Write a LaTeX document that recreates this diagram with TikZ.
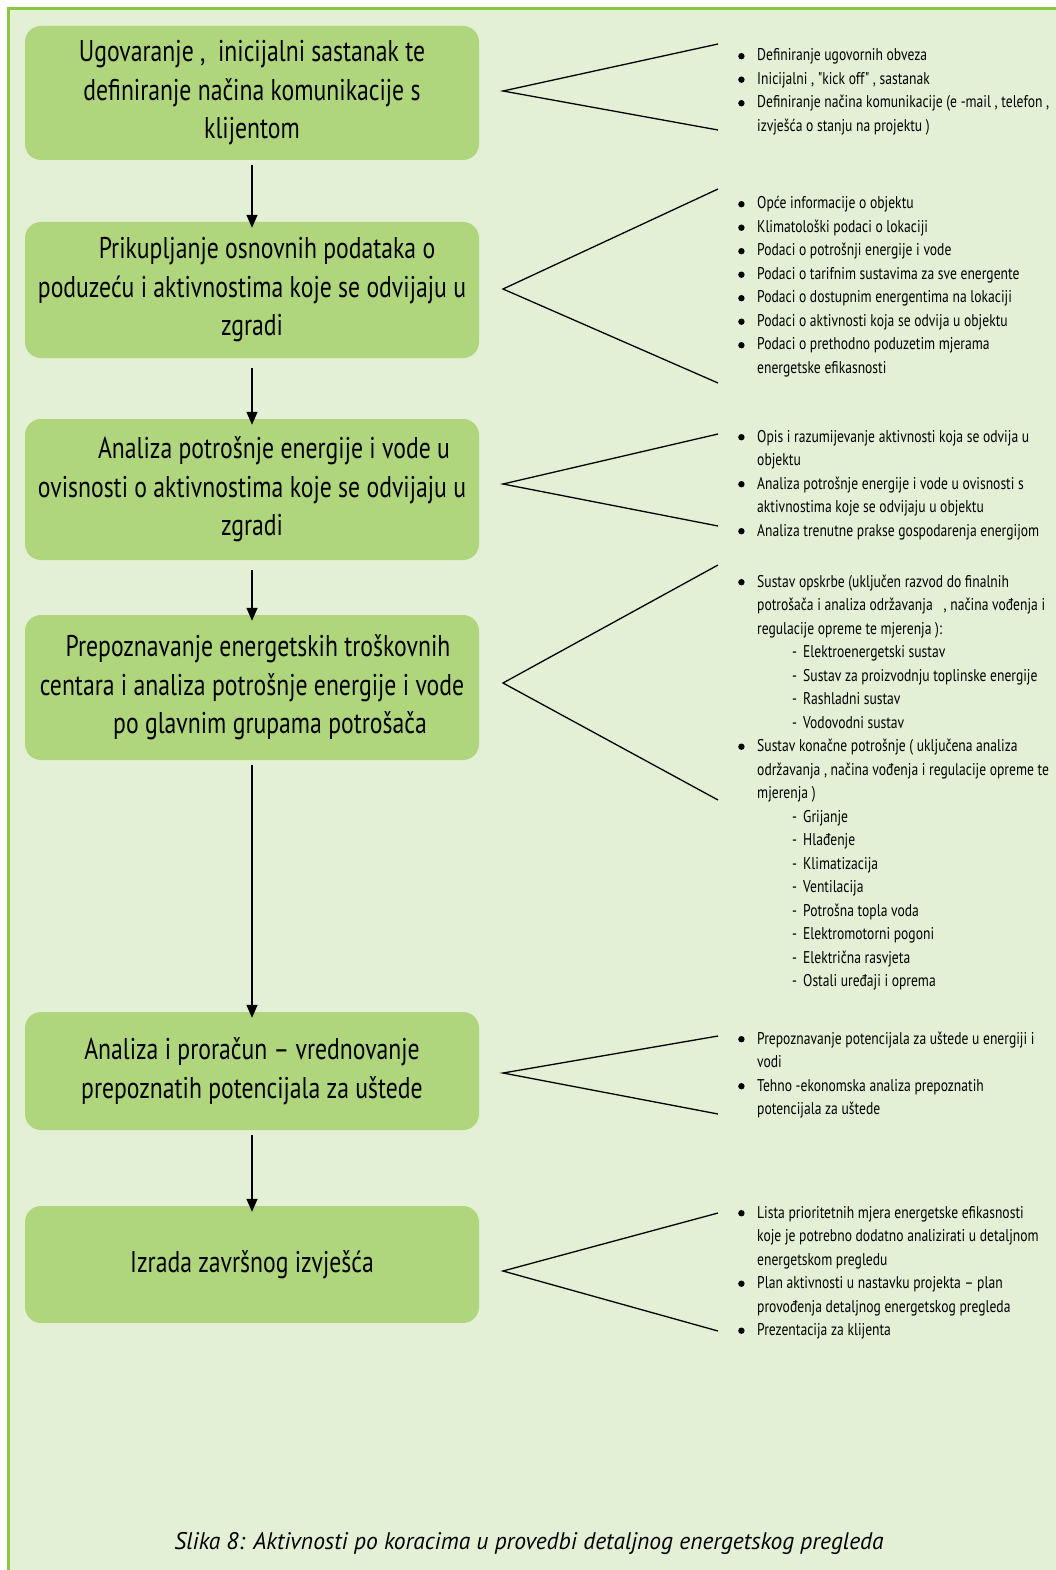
\documentclass[tikz,border=0pt]{standalone}
\usepackage{fontspec}
\setmainfont{PT Sans}
\newfontfamily\cf[FakeStretch=0.79]{PT Sans}
\newfontfamily\lf[FakeStretch=0.80]{PT Sans}
\newfontfamily\capf[FakeStretch=0.98]{PT Sans}
\usetikzlibrary{arrows.meta}
\definecolor{bgc}{HTML}{E3F0D5}
\definecolor{brc}{HTML}{8DC63F}
\definecolor{boxc}{HTML}{AFD57D}
\newcommand\bi{\makebox[19pt][l]{\tikz[baseline=-4.8pt]\fill (0,0) circle (3.2pt);}}
\newcommand\ci{\hspace*{19pt}}
\newcommand\di{\hspace*{54pt}\makebox[11pt][l]{-}}
\tikzset{
  stepbox/.style={draw=none, fill=boxc, rounded corners=16pt, minimum width=454pt,
    inner sep=0pt, align=center, font=\cf\fontsize{30}{38.5}\selectfont},
  arr/.style={line width=1.4pt, -{Triangle[length=13pt,width=11pt]}},
  chev/.style={line width=1.3pt},
  listnode/.style={anchor=base west, inner sep=0pt, font=\lf\fontsize{17}{23.5}\selectfont}
}
\begin{document}
\begin{tikzpicture}[x=1pt,y=-1pt]
\useasboundingbox (0,0) rectangle (1056,1570);
\fill[white] (0,0) rectangle (1056,1570);
\fill[bgc] (8.5,8.7) rectangle (1070,1580);
\draw[brc, line width=2.7pt] (8.5,1590) -- (8.5,8.7) -- (1070,8.7);

% boxes
\node[stepbox, minimum height=134pt] (b1) at (252,93) {Ugovaranje ,\ \ inicijalni sastanak te\\ definiranje načina komunikacije s\\ klijentom};
\node[stepbox, minimum height=136pt] (b2) at (252,290) {\hspace*{30pt}Prikupljanje osnovnih podataka o\\ poduzeću i aktivnostima koje se odvijaju u\\ zgradi};
\node[stepbox, minimum height=141pt] (b3) at (252,489.5) {\hspace*{44pt}Analiza potrošnje energije i vode u\\ ovisnosti o aktivnostima koje se odvijaju u\\ zgradi};
\node[stepbox, minimum height=145pt] (b4) at (252,687.5) {\hspace*{12pt}Prepoznavanje energetskih troškovnih\\ centara i analiza potrošnje energije i vode\\ \hspace*{36pt}po glavnim grupama potrošača};
\node[stepbox, minimum height=118pt] (b5) at (252,1071) {Analiza i proračun – vrednovanje\\ prepoznatih potencijala za uštede};
\node[stepbox, minimum height=117pt] (b6) at (252,1264.5) {Izrada završnog izvješća};

% arrows
\draw[arr] ([yshift=-5pt]b1.south) -- ([yshift=-6pt]b2.north);
\draw[arr] ([yshift=-10pt]b2.south) -- ([yshift=-6pt]b3.north);
\draw[arr] ([yshift=-10pt]b3.south) -- ([yshift=-6pt]b4.north);
\draw[arr] ([yshift=-5pt]b4.south) -- ([yshift=-6pt]b5.north);
\draw[arr] ([yshift=-5pt]b5.south) -- ([yshift=-6pt]b6.north);

% chevrons
\coordinate (a1) at (503,91);   \coordinate (u1) at (718,44);   \coordinate (d1) at (718,130);
\coordinate (a2) at (503,289);  \coordinate (u2) at (718,189);  \coordinate (d2) at (718,383);
\coordinate (a3) at (503,484);  \coordinate (u3) at (718,434);  \coordinate (d3) at (718,526);
\coordinate (a4) at (503,683);  \coordinate (u4) at (718,565);  \coordinate (d4) at (718,800);
\coordinate (a5) at (503,1073); \coordinate (u5) at (718,1036); \coordinate (d5) at (718,1114);
\coordinate (a6) at (503,1271); \coordinate (u6) at (718,1213); \coordinate (d6) at (718,1331);
\foreach \i in {1,...,6}{\draw[chev] (u\i) -- (a\i) -- (d\i);}

% lists
\node[listnode] (l1) at (738,61) {\parbox[t]{400pt}{\raggedright
\bi Definiranje ugovornih obveza\\
\bi Inicijalni ,\ "kick off" ,\ sastanak\\
\bi Definiranje načina komunikacije (e -mail ,\ telefon ,\\
\ci izvješća o stanju na projektu )}};

\node[listnode] (l2) at (738,209) {\parbox[t]{400pt}{\raggedright
\bi Opće informacije o objektu\\
\bi Klimatološki podaci o lokaciji\\
\bi Podaci o potrošnji energije i vode\\
\bi Podaci o tarifnim sustavima za sve energente\\
\bi Podaci o dostupnim energentima na lokaciji\\
\bi Podaci o aktivnosti koja se odvija u objektu\\
\bi Podaci o prethodno poduzetim mjerama\\
\ci energetske efikasnosti}};

\node[listnode] (l3) at (738,442) {\parbox[t]{400pt}{\raggedright
\bi Opis i razumijevanje aktivnosti koja se odvija u\\
\ci objektu\\
\bi Analiza potrošnje energije i vode u ovisnosti s\\
\ci aktivnostima koje se odvijaju u objektu\\
\bi Analiza trenutne prakse gospodarenja energijom}};

\node[listnode] (l4) at (738,587) {\parbox[t]{400pt}{\raggedright
\bi Sustav opskrbe (uključen razvod do finalnih\\
\ci potrošača i analiza održavanja\ \ \ ,\ načina vođenja i\\
\ci regulacije opreme te mjerenja ):\\
\di Elektroenergetski sustav\\
\di Sustav za proizvodnju toplinske energije\\
\di Rashladni sustav\\
\di Vodovodni sustav\\
\bi Sustav konačne potrošnje ( uključena analiza\\
\ci održavanja ,\ načina vođenja i regulacije opreme te\\
\ci mjerenja )\\
\di Grijanje\\
\di Hlađenje\\
\di Klimatizacija\\
\di Ventilacija\\
\di Potrošna topla voda\\
\di Elektromotorni pogoni\\
\di Električna rasvjeta\\
\di Ostali uređaji i oprema}};

\node[listnode] (l5) at (738,1044) {\parbox[t]{400pt}{\raggedright
\bi Prepoznavanje potencijala za uštede u energiji i\\
\ci vodi\\
\bi Tehno -ekonomska analiza prepoznatih\\
\ci potencijala za uštede}};

\node[listnode] (l6) at (738,1218) {\parbox[t]{400pt}{\raggedright
\bi Lista prioritetnih mjera energetske efikasnosti\\
\ci koje je potrebno dodatno analizirati u detaljnom\\
\ci energetskom pregledu\\
\bi Plan aktivnosti u nastavku projekta – plan\\
\ci provođenja detaljnog energetskog pregleda\\
\bi Prezentacija za klijenta}};

% caption
\node[anchor=base, inner sep=0pt, font=\capf\itshape\fontsize{24}{28}\selectfont] (cap) at (529,1549) {Slika 8: Aktivnosti po koracima u provedbi detaljnog energetskog pregleda};
\end{tikzpicture}
\end{document}
